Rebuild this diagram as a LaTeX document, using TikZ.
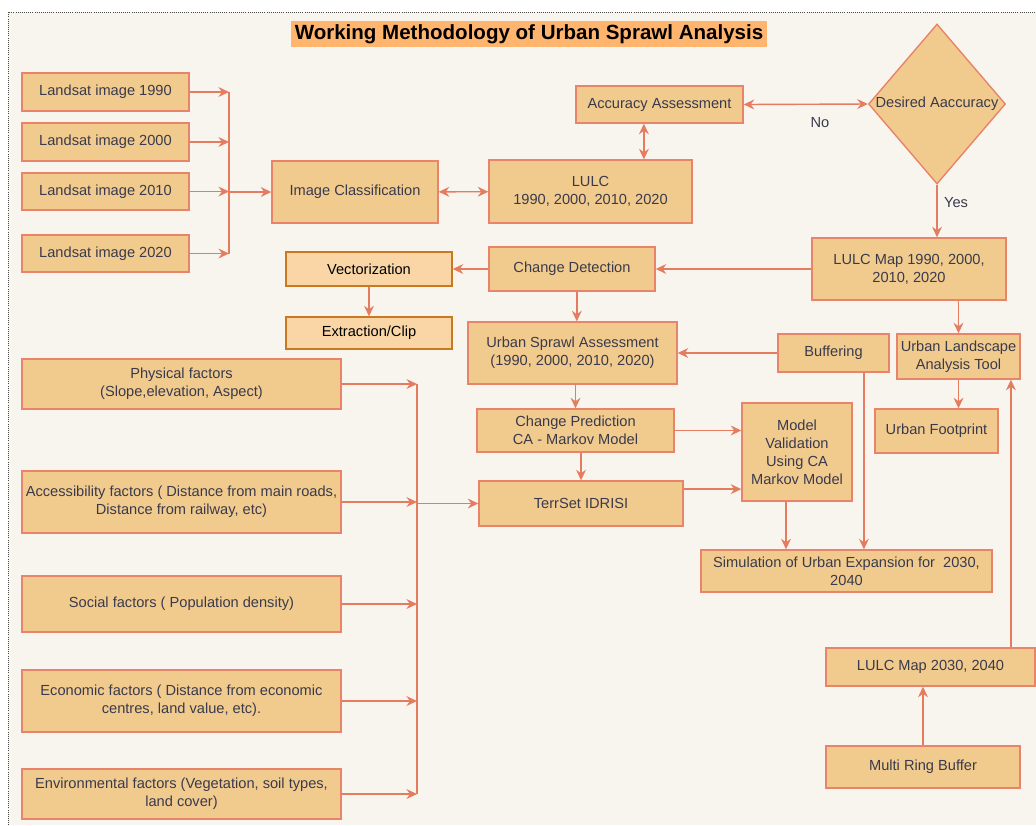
\documentclass[tikz,border=0pt]{standalone}
\usepackage{fontspec}
\setmainfont{Liberation Sans}
\usetikzlibrary{shapes.geometric,arrows.meta,positioning}
\definecolor{boxfill}{HTML}{F1CB8E}
\definecolor{boxline}{HTML}{E8846A}
\definecolor{arrowc}{HTML}{E57B5F}
\definecolor{textc}{HTML}{3A3A4C}
\definecolor{paper}{HTML}{F8F5EE}
\definecolor{titlefill}{HTML}{FFB56E}
\definecolor{clipfill}{HTML}{FAD6A6}
\definecolor{clipline}{HTML}{C97A20}
\tikzset{
x=0.025cm, y=-0.025cm, % one unit is one pixel of the sketch, y grows downwards
>={Stealth[length=7.5pt,width=7pt,inset=2.5pt]}, % filled arrow heads
process/.style={draw=boxline, fill=boxfill, line width=1pt, text=textc, align=center, inner sep=2pt, font=\fontsize{10.4}{12.8}\selectfont},
tool/.style={process, draw=clipline, fill=clipfill, text=black}, % the two GIS steps on the left
decision/.style={process, diamond, aspect=0.86, inner sep=0pt},
boxsize/.style 2 args={minimum width=#1*0.025cm, minimum height=#2*0.025cm},
note/.style={text=textc, font=\fontsize{10.4}{12.8}\selectfont},
}

\begin{document}
\begin{tikzpicture}[color=arrowc, line width=1pt]
    \useasboundingbox (0,0) rectangle (1036,825);
    \fill[paper] (8,12) rectangle (1036,825);
    \draw[densely dotted, gray!60!black, line width=0.5pt] (8,825) -- (8,12) -- (1036,12);
    \node[fill=titlefill, text=black, inner sep=0pt, boxsize={476}{26}, font=\fontsize{14.6}{17}\selectfont\bfseries] (title) at (529,34) {Working Methodology of Urban Sprawl Analysis};

    \node[process, boxsize={167}{38}] (l1990) at (105.5,92) {Landsat image 1990};
    \node[process, boxsize={167}{38}] (l2000) at (105.5,142) {Landsat image 2000};
    \node[process, boxsize={167}{37}] (l2010) at (105.5,191.5) {Landsat image 2010};
    \node[process, boxsize={167}{37}] (l2020) at (105.5,253.5) {Landsat image 2020};
    \node[process, boxsize={166}{62}] (imgclass) at (355,192) {Image Classification};
    \node[process, boxsize={203}{63}] (lulc) at (590.5,191.5) {LULC\\1990, 2000, 2010, 2020};
    \node[process, boxsize={167}{37}] (acc) at (659.5,104.5) {Accuracy Assessment};
    \node[decision, boxsize={137}{160}] (desired) at (937,104) {Desired Aaccuracy};
    \node[process, boxsize={194}{62}] (lulcmap) at (909,269) {LULC Map 1990, 2000,\\2010, 2020};
    \node[process, boxsize={166}{44}] (change) at (572,269) {Change Detection};
    \node[tool, boxsize={166}{34}] (vector) at (369,269) {Vectorization};
    \node[tool, boxsize={166}{32}] (extract) at (369,333) {Extraction/Clip};
    \node[process, boxsize={209}{62}] (sprawl) at (572.5,353) {Urban Sprawl Assessment\\(1990, 2000, 2010, 2020)};
    \node[process, boxsize={111}{38}] (buffer) at (833.5,353) {Buffering};
    \node[process, boxsize={123}{45}] (landscape) at (958.5,356.5) {Urban Landscape\\Analysis Tool};
    \node[process, boxsize={123}{44}] (footprint) at (936.5,431) {Urban Footprint};
    \node[process, boxsize={197}{43}] (predict) at (575.5,430.5) {Change Prediction\\CA - Markov Model};
    \node[process, boxsize={204}{45}] (terrset) at (581,503.5) {TerrSet IDRISI};
    \node[process, boxsize={110}{98}] (valid) at (797,452) {Model\\Validation\\Using CA\\Markov Model};
    \node[process, boxsize={291}{42}] (simul) at (846.5,571) {Simulation of Urban Expansion for~ 2030,\\2040};
    \node[process, boxsize={209}{38}] (lulcfut) at (930.5,667) {LULC Map 2030, 2040};
    \node[process, boxsize={194}{42}] (ring) at (923,767) {Multi Ring Buffer};

    \node[process, boxsize={319}{50}] (physical) at (181.5,384) {Physical factors\\(Slope,elevation, Aspect)};
    \node[process, boxsize={319}{62}] (access) at (181.5,502) {Accessibility factors ( Distance from main roads,\\Distance from railway, etc)};
    \node[process, boxsize={319}{56}] (social) at (181.5,604) {Social factors ( Population density)};
    \node[process, boxsize={319}{62}] (economic) at (181.5,701) {Economic factors ( Distance from economic\\centres, land value, etc).};
    \node[process, boxsize={319}{50}] (environ) at (181.5,794) {Environmental factors (Vegetation, soil types,\\land cover)};

    \node[note] (no) at (820,123) {No};
    \node[note] (yes) at (956,203) {Yes};

    \coordinate (join1) at (229,192);
    \coordinate (join2) at (417,507);
    \coordinate (accfoot) at ([xshift=-0.39cm]acc.south);
    \coordinate (changefoot) at ([xshift=0.12cm]change.south);
    \coordinate (terrout) at ([yshift=0.36cm]terrset.east);
    \coordinate (validfoot) at ([xshift=-0.275cm]valid.south);
    \coordinate (bufferfoot) at ([xshift=0.76cm]buffer.south);
    \coordinate (futtop) at ([xshift=2.01cm]lulcfut.north);

    \foreach \img in {l1990,l2000,l2010,l2020}
        \draw[->] (\img.east) -- (\img.east -| join1);
    \draw (l1990.east -| join1) -- (l2020.east -| join1);
    \foreach \fac in {physical,access,social,economic,environ}
        \draw[->] (\fac.east) -- (\fac.east -| join2);
    \draw (physical.east -| join2) -- (environ.east -| join2);

    \path[->]
    (join1) edge (imgclass)
    (join2 |- terrset.west) edge (terrset.west)
    (desired.south) edge (desired.south |- lulcmap.north)
    (lulcmap) edge (change)
    (change) edge (vector)
    (vector) edge (extract)
    (changefoot) edge (changefoot |- sprawl.north)
    (lulcmap.south -| landscape.north) edge (landscape.north)
    (buffer) edge (sprawl)
    (landscape.south) edge (landscape.south |- footprint.north)
    (sprawl.south -| predict.north) edge (predict.north)
    (predict.south -| terrset.north) edge (terrset.north)
    (predict.east) edge (predict.east -| valid.west)
    (terrout) edge (terrout -| valid.west)
    (validfoot) edge (validfoot |- simul.north)
    (bufferfoot) edge (bufferfoot |- simul.north)
    (ring.north) edge (ring.north |- lulcfut.south)
    (futtop) edge (futtop |- landscape.south);
    \path[<->]
    (imgclass) edge (lulc)
    (accfoot) edge (accfoot |- lulc.north)
    (acc.east) edge (desired.west);
\end{tikzpicture}
\end{document}
